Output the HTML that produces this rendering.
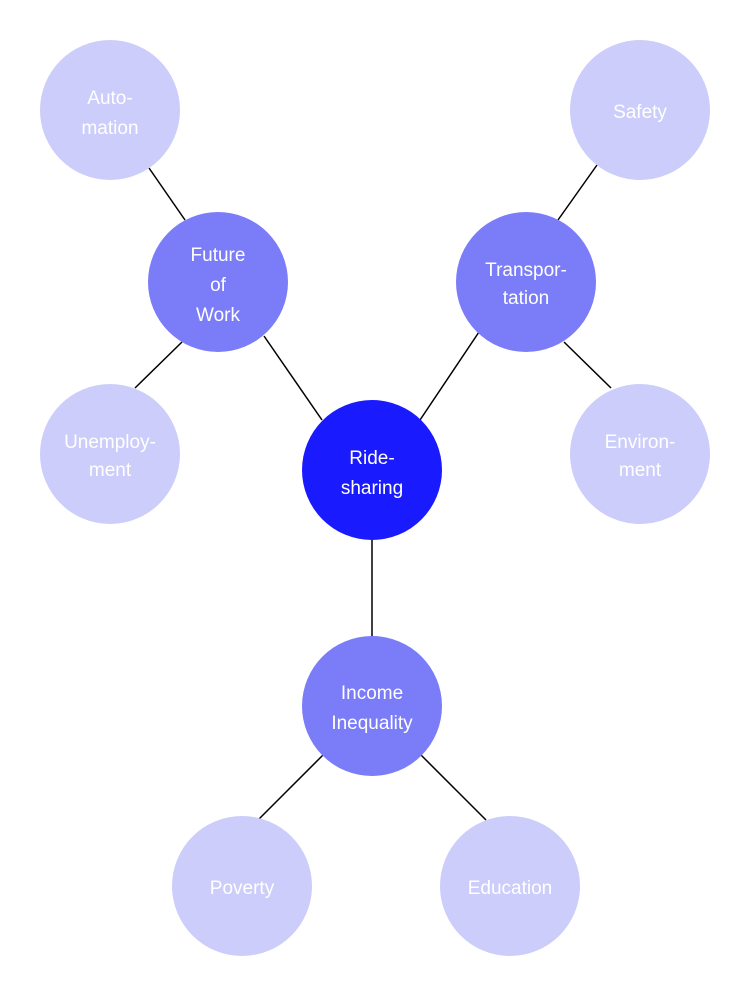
<!DOCTYPE html>
<html><head><meta charset="utf-8"><style>
html,body{margin:0;padding:0;background:#fff;}
svg text{font-family:"Liberation Sans",sans-serif;font-size:19px;fill:#fff;text-anchor:middle;}
</style></head><body>
<svg width="750" height="996" viewBox="0 0 750 996" xmlns="http://www.w3.org/2000/svg">
<g stroke="#000" stroke-width="1.5">
<line x1="322" y1="420" x2="264" y2="336"/>
<line x1="420" y1="420" x2="479" y2="332"/>
<line x1="372" y1="470" x2="372" y2="706"/>
<line x1="185" y1="220" x2="149" y2="168"/>
<line x1="182" y1="342" x2="135" y2="388"/>
<line x1="558" y1="220" x2="597" y2="165"/>
<line x1="564" y1="342" x2="611" y2="388"/>
<line x1="323" y1="755" x2="259" y2="819"/>
<line x1="421" y1="755" x2="486" y2="820"/>
</g>
<g fill="#cccdfb">
<circle cx="110" cy="110" r="70"/><circle cx="640" cy="110" r="70"/>
<circle cx="110" cy="454" r="70"/><circle cx="640" cy="454" r="70"/>
<circle cx="242" cy="886" r="70"/><circle cx="510" cy="886" r="70"/>
</g>
<g fill="#7b7cf8">
<circle cx="218" cy="282" r="70"/><circle cx="526" cy="282" r="70"/><circle cx="372" cy="706" r="70"/>
</g>
<circle cx="372" cy="470" r="70" fill="#1a1aff"/>
<text x="110" y="104">Auto-</text><text x="110" y="134">mation</text>
<text x="640" y="118">Safety</text>
<text x="110" y="448">Unemploy-</text><text x="110" y="476">ment</text>
<text x="640" y="448">Environ-</text><text x="640" y="476">ment</text>
<text x="242" y="894">Poverty</text>
<text x="510" y="894">Education</text>
<text x="218" y="261">Future</text><text x="218" y="291">of</text><text x="218" y="321">Work</text>
<text x="526" y="276">Transpor-</text><text x="526" y="304">tation</text>
<text x="372" y="699">Income</text><text x="372" y="729">Inequality</text>
<text x="372" y="464">Ride-</text><text x="372" y="494">sharing</text>
</svg>
</body></html>
